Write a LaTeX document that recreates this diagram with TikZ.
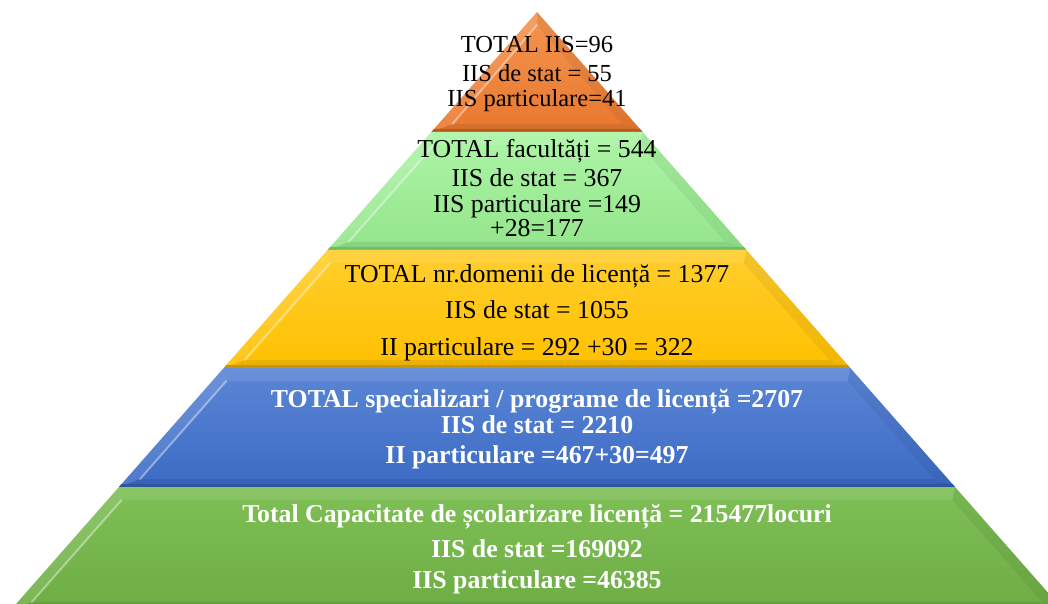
\documentclass[tikz,border=0pt]{standalone}
\usepackage{fontspec}
\setmainfont{Liberation Serif}
\definecolor{orTop}{HTML}{F39550}\definecolor{orBot}{HTML}{E9782E}\definecolor{orBand}{HTML}{B85A1C}
\definecolor{lgTop}{HTML}{ADF5A6}\definecolor{lgBot}{HTML}{94E58C}\definecolor{lgBand}{HTML}{6FBF68}
\definecolor{yeTop}{HTML}{FFCE2E}\definecolor{yeBot}{HTML}{FFC000}\definecolor{yeBand}{HTML}{C99500}
\definecolor{blTop}{HTML}{5B86D6}\definecolor{blBot}{HTML}{3C6BC4}\definecolor{blBand}{HTML}{2F559E}
\definecolor{grTop}{HTML}{7EBF56}\definecolor{grBot}{HTML}{6DAD44}\definecolor{grBand}{HTML}{5A9338}
\newcommand\PyrLayer[5]{%
 \pgfmathsetmacro\Ya{603-#1}\pgfmathsetmacro\Yb{603-#2}%
 \pgfmathsetmacro\ha{0.88*(#1-12)}\pgfmathsetmacro\hb{0.88*(#2-12)}%
 \pgfmathsetmacro\ia{#1+13}\pgfmathsetmacro\ib{#2-8}%
 \pgfmathsetmacro\Yia{603-\ia}\pgfmathsetmacro\Yib{603-\ib}%
 \pgfmathsetmacro\hia{max(0.88*(\ia-12)-14,0)}\pgfmathsetmacro\hib{0.88*(\ib-12)-14}%
 \pgfmathsetmacro\Ybb{603-#2+3}\pgfmathsetmacro\hbb{0.88*(#2-3-12)}%
 \shade[top color=#3,bottom color=#4] (537-\ha,\Ya) -- (537+\ha,\Ya) -- (537+\hb,\Yb) -- (537-\hb,\Yb) -- cycle;
 \fill[white,opacity=0.09] (537-\ha,\Ya) -- (537+\ha,\Ya) -- (537+\hia,\Yia) -- (537-\hia,\Yia) -- cycle;
 \fill[white,opacity=0.10] (537-\ha,\Ya) -- (537-\hia,\Yia) -- (537-\hib,\Yib) -- (537-\hb,\Yb) -- cycle;
 \fill[black,opacity=0.05] (537+\ha,\Ya) -- (537+\hia,\Yia) -- (537+\hib,\Yib) -- (537+\hb,\Yb) -- cycle;
 \fill[black,opacity=0.08] (537-\hib,\Yib) -- (537+\hib,\Yib) -- (537+\hb,\Yb) -- (537-\hb,\Yb) -- cycle;
 \draw[white,opacity=0.4,line width=2pt,line cap=round] (537-\hia,\Yia) -- (537-\hib,\Yib);
 \fill[#5] (537-\hbb,\Ybb) -- (537+\hbb,\Ybb) -- (537+\hb,\Yb) -- (537-\hb,\Yb) -- cycle;
}
\begin{document}
\begin{tikzpicture}[x=1pt,y=1pt,
  txa/.style={anchor=base,inner sep=0pt,font=\fontsize{24.5}{28}\selectfont,text=black},
  txb/.style={anchor=base,inner sep=0pt,font=\fontsize{25.8}{30}\selectfont,text=black},
  txw/.style={anchor=base,inner sep=0pt,font=\fontsize{25.8}{30}\selectfont\bfseries,text=white}]
\useasboundingbox (0,0) rectangle (1048,603);
\fill[white] (0,0) rectangle (1048,603);
\begin{scope}
\clip (0,0) rectangle (1048,603);
\PyrLayer{12}{132}{orTop}{orBot}{orBand}
\PyrLayer{132}{250}{lgTop}{lgBot}{lgBand}
\PyrLayer{250}{368}{yeTop}{yeBot}{yeBand}
\PyrLayer{368}{487}{blTop}{blBot}{blBand}
\PyrLayer{487}{610}{grTop}{grBot}{grBand}
\end{scope}
% layer 1
\node[txa] (a1) at (537,550) {TOTAL IIS=96};
\node[txa] (a2) at (537,521) {IIS de stat = 55};
\node[txa] (a3) at (537,496) {IIS particulare=41};
% layer 2
\node[txb] (b1) at (537,445) {TOTAL facultăți = 544};
\node[txb] (b2) at (537,416) {IIS de stat = 367};
\node[txb] (b3) at (537,390) {IIS particulare =149};
\node[txb] (b4) at (537,366) {+28=177};
% layer 3
\node[txb] (c1) at (537,320) {TOTAL nr.domenii de licență = 1377};
\node[txb] (c2) at (537,285) {IIS de stat = 1055};
\node[txb] (c3) at (537,248) {II particulare = 292 +30 = 322};
% layer 4
\node[txw] (d1) at (537,196) {TOTAL specializari / programe de licență =2707};
\node[txw] (d2) at (537,170) {IIS de stat = 2210};
\node[txw] (d3) at (537,140) {II particulare =467+30=497};
% layer 5
\node[txw] (e1) at (537,81) {Total Capacitate de școlarizare licență = 215477locuri};
\node[txw] (e2) at (537,46) {IIS de stat =169092};
\node[txw] (e3) at (537,15) {IIS particulare =46385};
\end{tikzpicture}
\end{document}
